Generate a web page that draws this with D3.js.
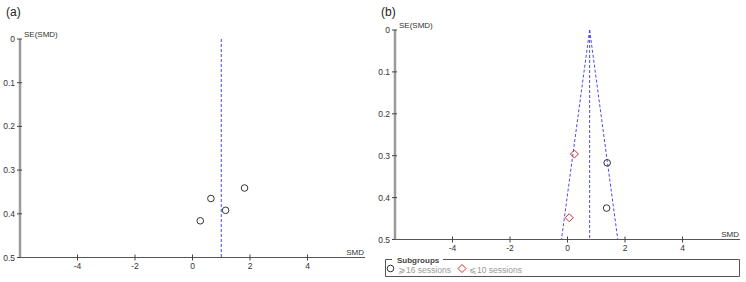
<!DOCTYPE html>
<html>
<head>
<meta charset="utf-8">
<script src="https://cdn.jsdelivr.net/npm/d3@7"></script>
<style>
body { margin: 0; background: #fff; }
svg text { font-family: "Liberation Sans", Arial, sans-serif; }
</style>
</head>
<body>
<svg id="chart" width="746" height="282"></svg>
<script>
// funnel plot data
var xTicks = [-4, -2, 0, 2, 4];
var yTicks = [0, 0.1, 0.2, 0.3, 0.4, 0.5];

var smd_a = [0.27, 0.64, 1.15, 1.81];
var se_a  = [0.416, 0.365, 0.392, 0.341];
var pooled_a = 1.0;

var smd_b_16 = [1.38, 1.36];
var se_b_16  = [0.317, 0.425];
var smd_b_10 = [0.24, 0.06];
var se_b_10  = [0.296, 0.448];
var pooled_b = 0.77;

var legendLabels = ["\u2A7E16 sessions", "\u2A7D10 sessions"];

var svg = d3.select('#chart');

function draw_panel(tag, left, right, top, bottom)
{
    var x = d3.scaleLinear().domain([-6, 6]).range([left, right]);
    var y = d3.scaleLinear().domain([0, 0.5]).range([top, bottom]);
    var g = svg.append('g');

    g.append('text').attr('x', left - 14).attr('y', 16)
        .attr('font-size', 12).attr('fill', '#222').text(tag);

    // y axis (thick grey)
    g.append('line').attr('x1', left).attr('x2', left)
        .attr('y1', y(0)).attr('y2', y(0.5))
        .attr('stroke', '#9a9a9a').attr('stroke-width', 2.5);
    g.selectAll('.yt').data(yTicks).enter().append('line')
        .attr('x1', left - 3).attr('x2', left + 2)
        .attr('y1', d => y(d)).attr('y2', d => y(d))
        .attr('stroke', '#444').attr('stroke-width', 1);
    g.selectAll('.yl').data(yTicks).enter().append('text')
        .attr('x', left - 5).attr('y', d => y(d) + 3)
        .attr('text-anchor', 'end').attr('font-size', 8.5).attr('fill', '#333')
        .text(d => d);
    g.append('text').attr('x', left + 4).attr('y', y(0) - 2)
        .attr('font-size', 8).attr('fill', '#333').text('SE(SMD)');

    // x axis
    g.append('line').attr('x1', left).attr('x2', right)
        .attr('y1', y(0.5)).attr('y2', y(0.5))
        .attr('stroke', '#555').attr('stroke-width', 1);
    g.selectAll('.xt').data(xTicks).enter().append('line')
        .attr('x1', d => x(d)).attr('x2', d => x(d))
        .attr('y1', y(0.5) - 3).attr('y2', y(0.5) + 3)
        .attr('stroke', '#444').attr('stroke-width', 1);
    g.selectAll('.xl').data(xTicks).enter().append('text')
        .attr('x', d => x(d)).attr('y', y(0.5) + 11)
        .attr('text-anchor', 'middle').attr('font-size', 8.5).attr('fill', '#333')
        .text(d => d);
    g.append('text').attr('x', right - 1).attr('y', y(0.5) - 3)
        .attr('text-anchor', 'end').attr('font-size', 8).attr('fill', '#333').text('SMD');

    return {g: g, x: x, y: y};
}

function dashed(g, x1, y1, x2, y2)
{
    g.append('line').attr('x1', x1).attr('y1', y1).attr('x2', x2).attr('y2', y2)
        .attr('stroke', '#4b4be6').attr('stroke-width', 1)
        .attr('stroke-dasharray', '3,2');
}

function circles(p, xs, ys)
{
    p.g.selectAll(null).data(xs).enter().append('circle')
        .attr('cx', d => p.x(d)).attr('cy', (d, i) => p.y(ys[i]))
        .attr('r', 3.3).attr('fill', 'none')
        .attr('stroke', '#333').attr('stroke-width', 1);
}

function diamonds(p, xs, ys)
{
    p.g.selectAll(null).data(xs).enter().append('path')
        .attr('d', (d, i) => {
            var cx = p.x(d), cy = p.y(ys[i]), r = 4;
            return `M${cx},${cy - r}L${cx + r},${cy}L${cx},${cy + r}L${cx - r},${cy}Z`;
        })
        .attr('fill', 'none').attr('stroke', '#e0262e').attr('stroke-width', 1);
}

// panel (a)
var pa = draw_panel('(a)', 20, 365, 39, 257.5);
dashed(pa.g, pa.x(pooled_a), pa.y(0), pa.x(pooled_a), pa.y(0.5));
circles(pa, smd_a, se_a);

// panel (b)
var pb = draw_panel('(b)', 395, 740, 30, 239.5);
dashed(pb.g, pb.x(pooled_b), pb.y(0), pb.x(pooled_b), pb.y(0.5));
dashed(pb.g, pb.x(pooled_b), pb.y(0), pb.x(pooled_b - 1.96 * 0.5), pb.y(0.5));
dashed(pb.g, pb.x(pooled_b), pb.y(0), pb.x(pooled_b + 1.96 * 0.5), pb.y(0.5));
circles(pb, smd_b_16, se_b_16);
diamonds(pb, smd_b_10, se_b_10);

// legend
var lg = svg.append('g');
lg.append('path')
    .attr('d', 'M392,259.5H385.5V276.5H739.5V259.5H443')
    .attr('fill', 'none').attr('stroke', '#555').attr('stroke-width', 1);
lg.append('text').attr('x', 397).attr('y', 262.5).attr('font-size', 8)
    .attr('font-weight', 'bold').attr('fill', '#444').text('Subgroups');
lg.append('circle').attr('cx', 390.5).attr('cy', 268.5).attr('r', 3.3)
    .attr('fill', 'none').attr('stroke', '#333');
lg.append('text').attr('x', 398).attr('y', 272.5).attr('font-size', 8.5)
    .attr('fill', '#999').text(legendLabels[0]);
lg.append('path').attr('d', 'M462,264.5L466,268.5L462,272.5L458,268.5Z')
    .attr('fill', 'none').attr('stroke', '#e0262e');
lg.append('text').attr('x', 469).attr('y', 272.5).attr('font-size', 8.5)
    .attr('fill', '#999').text(legendLabels[1]);
</script>
</body>
</html>
